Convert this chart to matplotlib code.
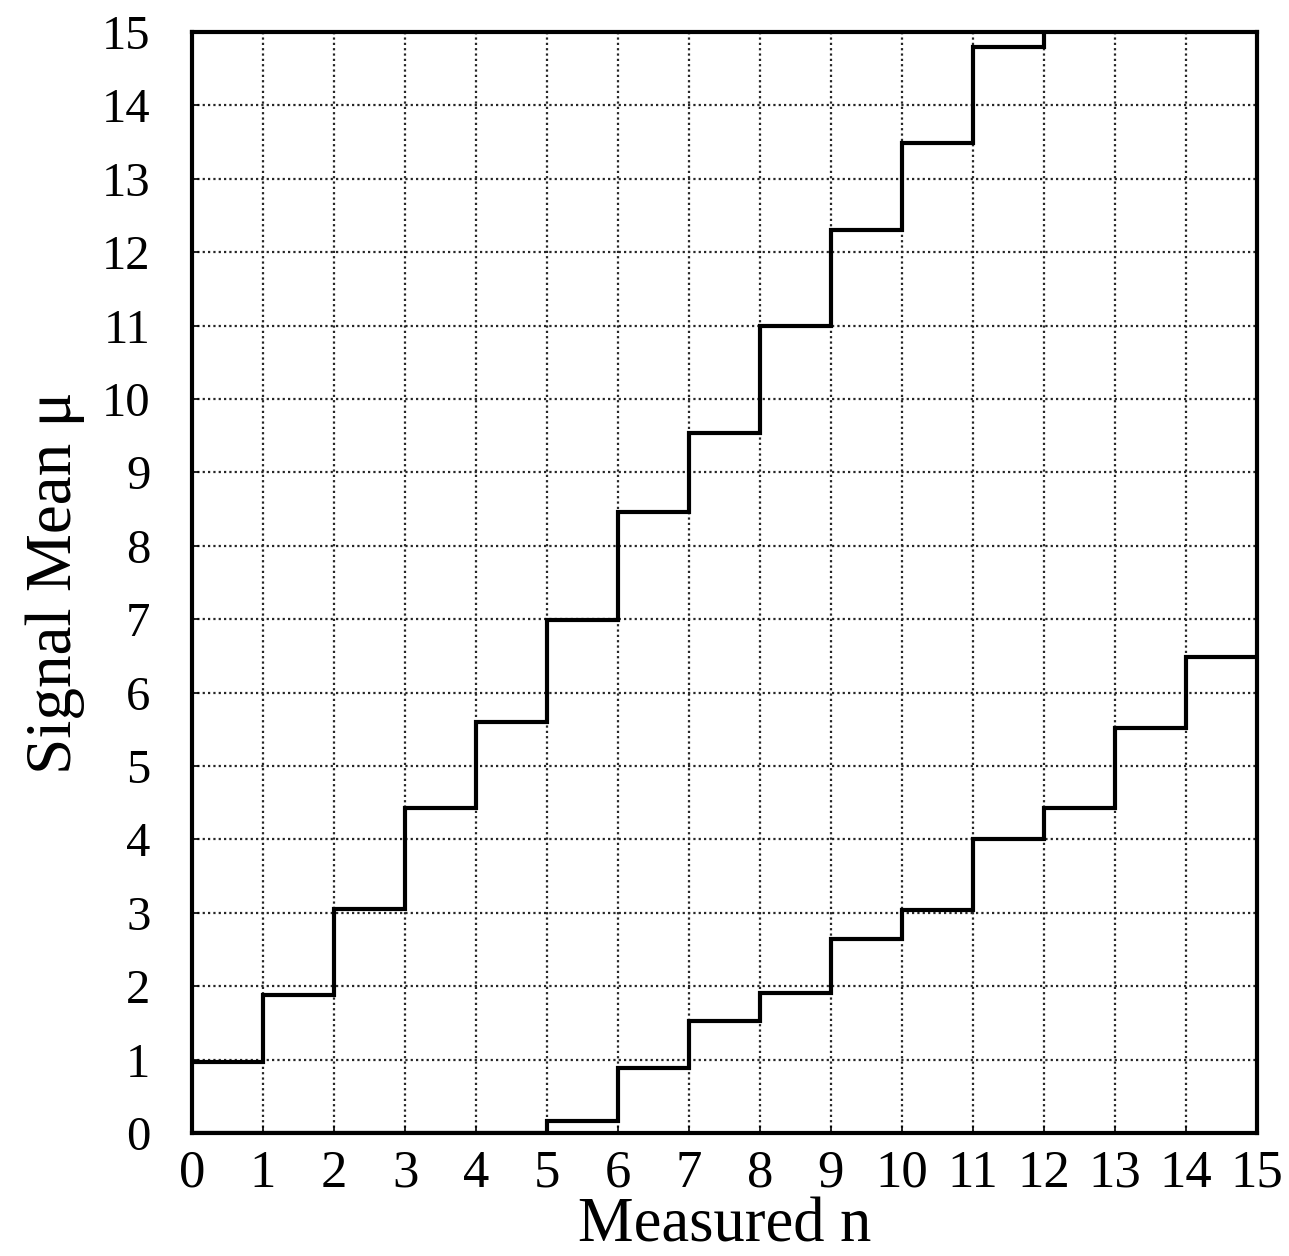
import matplotlib
matplotlib.use("Agg")
import matplotlib.pyplot as plt
import numpy as np

# Step edges (measured n) and confidence-belt values (signal mean mu)
upper_edges = list(range(0, 14))
upper_mu = [0.97, 1.88, 3.05, 4.43, 5.60, 6.99, 8.46, 9.54, 10.99, 12.30, 13.49, 14.79, 16.0]
lower_edges = list(range(0, 16))
lower_mu = [0.0, 0.0, 0.0, 0.0, 0.0, 0.16, 0.89, 1.53, 1.90, 2.64, 3.04, 4.00, 4.43, 5.52, 6.49]

xticks = list(range(0, 16))
yticks = list(range(0, 16))

plt.rcParams['font.family'] = ['Liberation Serif', 'DejaVu Serif']

fig = plt.figure(figsize=(12.89, 12.56), dpi=100)
ax = fig.add_axes([0.149, 0.098, 0.826, 0.8765])

ax.stairs(upper_mu, upper_edges, color='black', lw=3.0, baseline=None, zorder=3)
ax.stairs(lower_mu, lower_edges, color='black', lw=3.0, baseline=None, zorder=3)

ax.set_xlim(0, 15)
ax.set_ylim(0, 15)
ax.set_xticks(xticks)
ax.set_yticks(yticks)
ax.grid(True, color='0.15', linestyle=(0, (1, 1.4)), lw=1.6)
ax.set_axisbelow(True)

for s in ax.spines.values():
    s.set_linewidth(3.0)
    s.set_zorder(4)

ax.tick_params(axis='both', direction='in', length=5, width=1.2)
ax.tick_params(axis='y', labelsize=35, pad=30)
ax.tick_params(axis='x', labelsize=38, pad=12)

ax.set_xlabel('Measured n', fontsize=45, labelpad=0)
ax.set_ylabel('Signal Mean μ', fontsize=47, labelpad=12)

fig.savefig('out.png', dpi=100)
